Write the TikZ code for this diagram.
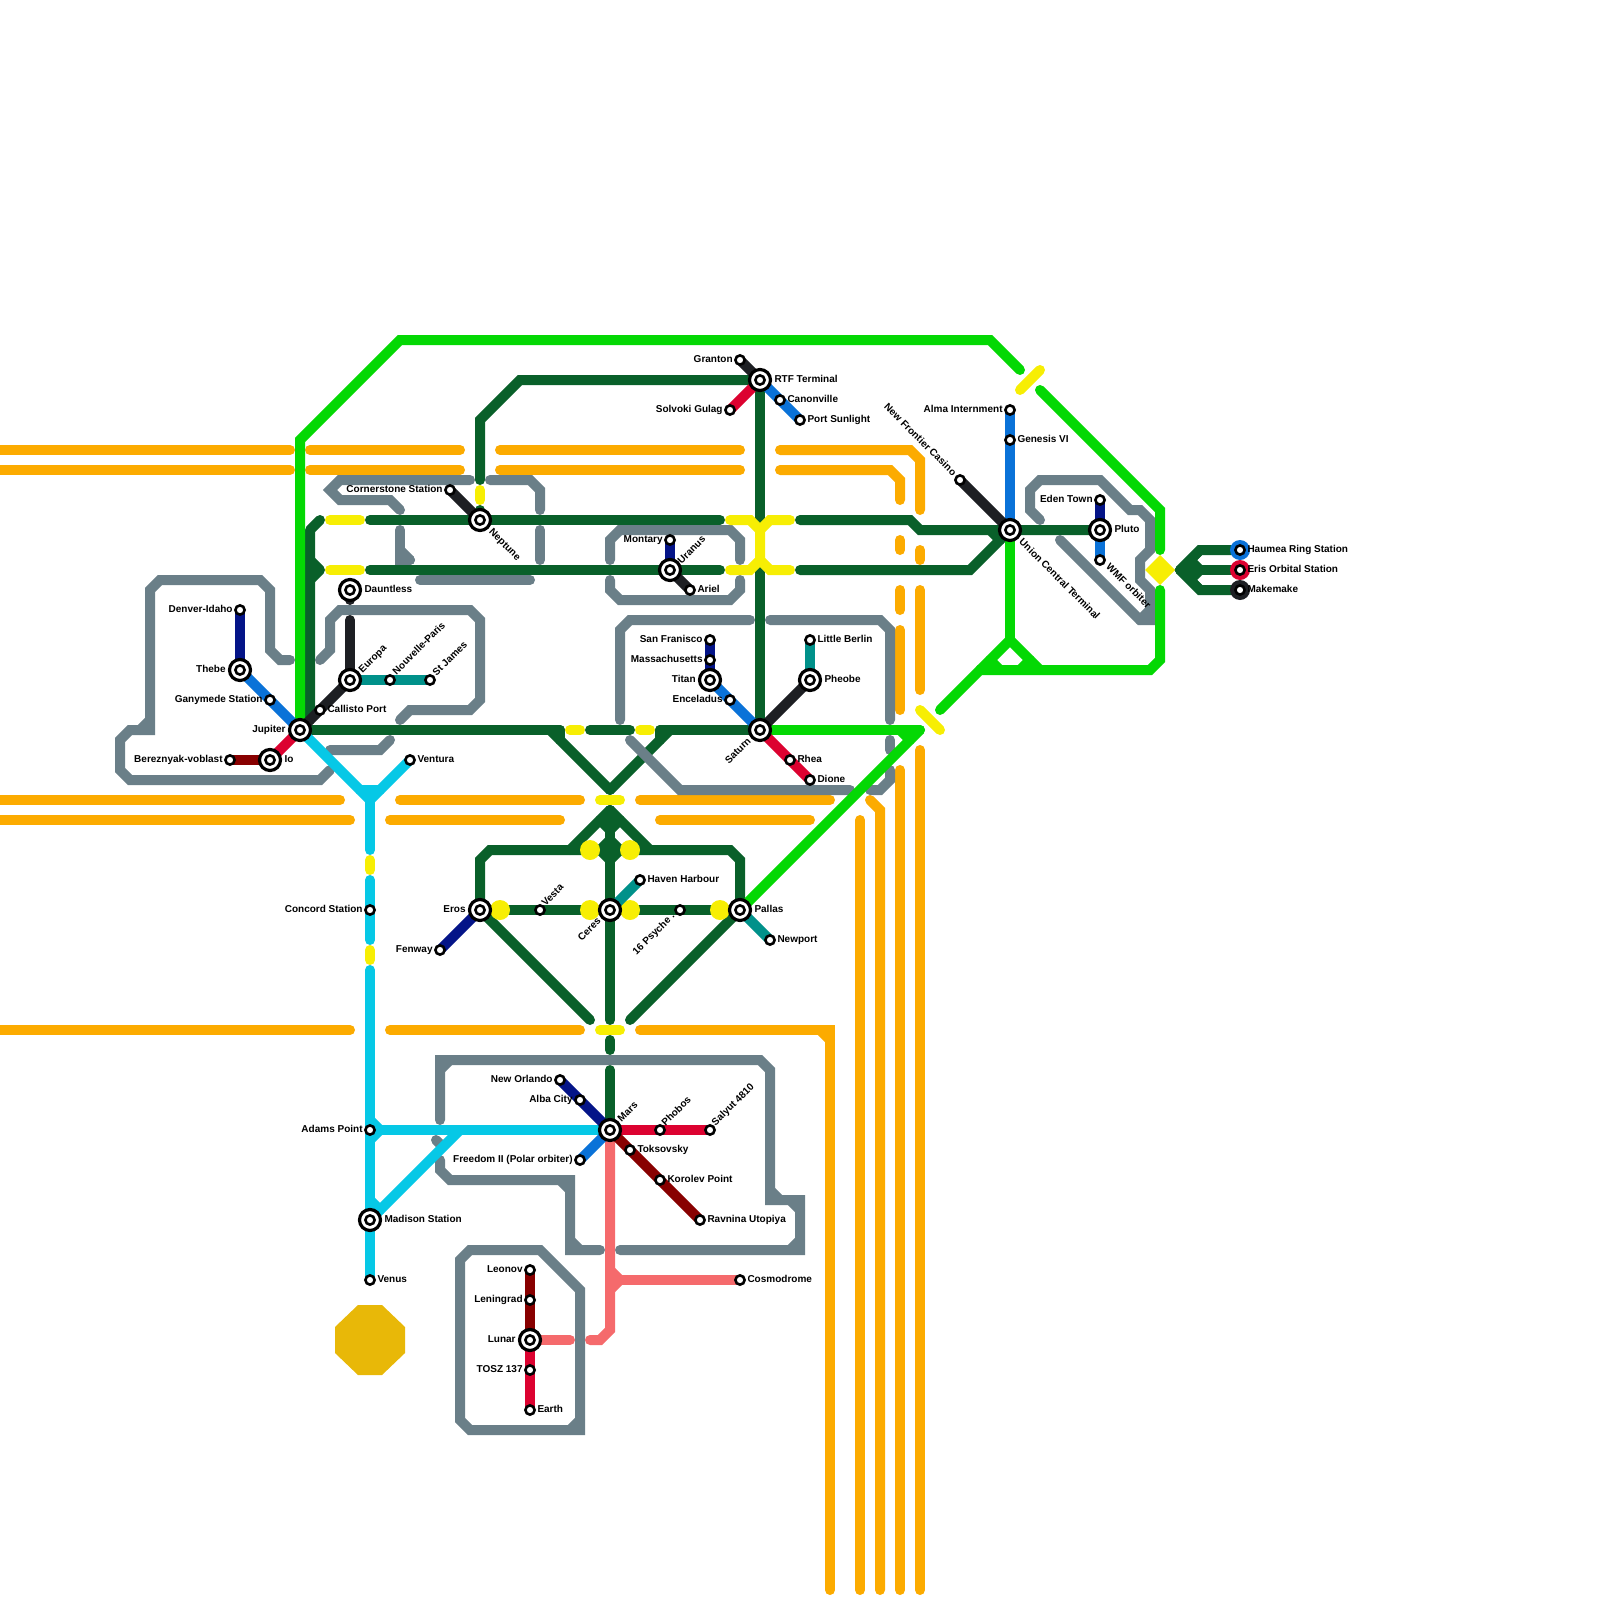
\documentclass[tikz,border=0pt]{standalone}
\usepackage{fontspec}
\setmainfont{Liberation Sans}
\pgfdeclarelayer{lines}
\pgfsetlayers{lines,main}
\definecolor{mOrange}{RGB}{252,171,0}
\definecolor{mDark}{RGB}{9,96,42}
\definecolor{mBright}{RGB}{4,216,4}
\definecolor{mYellow}{RGB}{247,238,4}
\definecolor{mGrey}{RGB}{106,127,136}
\definecolor{mNavy}{RGB}{4,20,136}
\definecolor{mBlue}{RGB}{10,114,216}
\definecolor{mCyan}{RGB}{6,200,230}
\definecolor{mRed}{RGB}{220,2,48}
\definecolor{mMaroon}{RGB}{136,0,0}
\definecolor{mTeal}{RGB}{0,145,138}
\definecolor{mBlack}{RGB}{29,31,35}
\definecolor{mSalmon}{RGB}{245,106,108}
\definecolor{mGold}{RGB}{232,184,8}
\tikzset{
  mline/.style={line width=10pt,line cap=round,line join=miter,miter limit=10},
  oline/.style={mline,draw=mOrange},
  dline/.style={mline,draw=mDark},
  bline/.style={mline,draw=mBright},
  yline/.style={mline,draw=mYellow},
  gline/.style={mline,draw=mGrey},
  cline/.style={mline,draw=mCyan},
  nline/.style={mline,draw=mNavy},
  uline/.style={mline,draw=mBlue},
  rline/.style={mline,draw=mRed},
  mrline/.style={mline,draw=mMaroon},
  tline/.style={mline,draw=mTeal},
  kline/.style={mline,draw=mBlack},
  sline/.style={mline,draw=mSalmon},
  stopmark/.style={circle,draw=black,fill=white,line width=2.6pt,minimum size=9.2pt,inner sep=0pt},
  hubmark/.style={circle,draw=black,fill=white,line width=3.2pt,minimum size=21pt,inner sep=0pt},
  endcap/.style={circle,minimum size=20pt,inner sep=0pt},
  blob/.style={circle,fill=mYellow,minimum size=20pt,inner sep=0pt},
  txt/.style={font=\fontsize{10}{10}\selectfont\bfseries,inner sep=0pt,text height=7.2pt,text depth=0pt,text=black},
  lr/.style={txt,anchor=west,xshift=-0.7pt,yshift=0.8pt},
  ll/.style={txt,anchor=east,xshift=0.8pt,yshift=0.8pt},
  ru/.style={txt,anchor=west,rotate=45},
  rd/.style={txt,anchor=west,rotate=-45},
  eu/.style={txt,anchor=east,rotate=45},
  ed/.style={txt,anchor=east,rotate=-45},
}
\newcommand{\stn}[3]{\node[stopmark] (#1) at (#2,#3) {};}
\newcommand{\hub}[3]{\node[hubmark] (#1) at (#2,#3) {};\node[stopmark] (#1-i) at (#2,#3) {};}
\begin{document}
\begin{tikzpicture}[x=1pt,y=-1pt]
\useasboundingbox (0,0) rectangle (1600,1600);
% stations
\hub{jupiter}{300}{730}\hub{thebe}{240}{670}\stn{denver}{240}{610}\stn{ganymede}{270}{700}
\hub{io}{270}{760}\stn{bereznyak}{230}{760}\stn{callisto}{320}{710}\hub{europa}{350}{680}
\hub{dauntless}{350}{590}\stn{nouvelle}{390}{680}\stn{stjames}{430}{680}\stn{ventura}{410}{760}
\hub{neptune}{480}{520}\stn{cornerstone}{450}{490}
\hub{rtf}{760}{380}\stn{granton}{740}{360}\stn{canonville}{780}{400}\stn{sunlight}{800}{420}\stn{solvoki}{730}{410}
\hub{uranus}{670}{570}\stn{montary}{670}{540}\stn{ariel}{690}{590}
\hub{saturn}{760}{730}\stn{rhea}{790}{760}\stn{dione}{810}{780}
\hub{titan}{710}{680}\stn{sanfran}{710}{640}\stn{mass}{710}{660}\stn{enceladus}{730}{700}
\hub{pheobe}{810}{680}\stn{berlin}{810}{640}
\hub{union}{1010}{530}\stn{alma}{1010}{410}\stn{genesis}{1010}{440}\stn{frontier}{960}{480}
\hub{pluto}{1100}{530}\stn{eden}{1100}{500}\stn{wmf}{1100}{560}
\node[endcap,fill=mBlue] (haumea-c) at (1240,550) {};
\node[endcap,fill=mRed] (eris-c) at (1240,570) {};
\node[endcap,fill=mBlack] (make-c) at (1240,590) {};
\stn{haumea}{1240}{550}\stn{eris}{1240}{570}\stn{makemake}{1240}{590}
\hub{eros}{480}{910}\hub{ceres}{610}{910}\hub{pallas}{740}{910}\stn{vesta}{540}{910}\stn{psyche}{680}{910}
\stn{haven}{640}{880}\stn{newport}{770}{940}\stn{fenway}{440}{950}
\stn{concord}{370}{910}\stn{adams}{370}{1130}\hub{madison}{370}{1220}\stn{venus}{370}{1280}
\hub{mars}{610}{1130}\stn{orlando}{560}{1080}\stn{alba}{580}{1100}\stn{freedom}{580}{1160}
\stn{phobos}{660}{1130}\stn{salyut}{710}{1130}\stn{toksovsky}{630}{1150}\stn{korolev}{660}{1180}\stn{ravnina}{700}{1220}
\stn{cosmodrome}{740}{1280}
\stn{leonov}{530}{1270}\stn{leningrad}{530}{1300}\hub{lunar}{530}{1340}\stn{tosz}{530}{1370}\stn{earth}{530}{1410}
% labels
\node[ll] (t1) at (232,609.4) {Denver-Idaho};
\node[ll] (t2) at (225,669.4) {Thebe};
\node[ll] (t3) at (262,699.4) {Ganymede Station};
\node[ll] (t4) at (285,729.4) {Jupiter};
\node[ll] (t5) at (222,759.4) {Bereznyak-voblast};
\node[lr] (t6) at (285,759.4) {Io};
\node[lr] (t7) at (328,709.4) {Callisto Port};
\node[lr] (t8) at (365,589.4) {Dauntless};
\node[lr] (t9) at (418,759.4) {Ventura};
\node[ll] (t10) at (442,489.4) {Cornerstone Station};
\node[ru] (t11) at (360,671) {Europa};
\node[ru] (t12) at (394,673) {Nouvelle-Paris};
\node[ru] (t13) at (434,674) {St James};
\node[rd] (t14) at (491,530) {Neptune};
\node[ll] (t15) at (732,359.4) {Granton};
\node[lr] (t16) at (775,379.4) {RTF Terminal};
\node[lr] (t17) at (788,399.4) {Canonville};
\node[lr] (t18) at (808,419.4) {Port Sunlight};
\node[ll] (t19) at (722,409.4) {Solvoki Gulag};
\node[ll] (t20) at (662,539.4) {Montary};
\node[ru] (t21) at (679,562) {Uranus};
\node[lr] (t22) at (698,589.4) {Ariel};
\node[ll] (t23) at (702,639.4) {San Franisco};
\node[ll] (t24) at (702,659.4) {Massachusetts};
\node[ll] (t25) at (695,679.4) {Titan};
\node[ll] (t26) at (722,699.4) {Enceladus};
\node[lr] (t27) at (818,639.4) {Little Berlin};
\node[lr] (t28) at (825,679.4) {Pheobe};
\node[eu] (t29) at (749,739) {Saturn};
\node[lr] (t30) at (798,759.4) {Rhea};
\node[lr] (t31) at (818,779.4) {Dione};
\node[ll] (t32) at (1002,409.4) {Alma Internment};
\node[lr] (t33) at (1018,439.4) {Genesis VI};
\node[ed] (t34) at (955,474) {New Frontier Casino};
\node[rd] (t35) at (1021,540) {Union Central Terminal};
\node[ll] (t36) at (1092,499.4) {Eden Town};
\node[lr] (t37) at (1115,529.4) {Pluto};
\node[rd] (t38) at (1108,565) {WMF orbiter};
\node[lr] (t39) at (1248,549.4) {Haumea Ring Station};
\node[lr] (t40) at (1248,569.4) {Eris Orbital Station};
\node[lr] (t41) at (1248,589.4) {Makemake};
\node[ll] (t42) at (465,909.4) {Eros};
\node[ll] (t43) at (432,949.4) {Fenway};
\node[ru] (t44) at (543,904) {Vesta};
\node[eu] (t45) at (599,919) {Ceres};
\node[txt,anchor=west,rotate=45] (t46) at (634,953) {16 Psyche .};
\node[lr] (t47) at (648,879.4) {Haven Harbour};
\node[lr] (t48) at (755,909.4) {Pallas};
\node[lr] (t49) at (778,939.4) {Newport};
\node[ll] (t50) at (362,909.4) {Concord Station};
\node[ll] (t51) at (362,1129.4) {Adams Point};
\node[lr] (t52) at (385,1219.4) {Madison Station};
\node[lr] (t53) at (378,1279.4) {Venus};
\node[ll] (t54) at (552,1079.4) {New Orlando};
\node[ll] (t55) at (572,1099.4) {Alba City};
\node[ll] (t56) at (572,1159.4) {Freedom II (Polar orbiter)};
\node[ru] (t57) at (619,1120) {Mars};
\node[ru] (t58) at (663,1124) {Phobos};
\node[ru] (t59) at (713,1124) {Salyut 4810};
\node[lr] (t60) at (638,1149.4) {Toksovsky};
\node[lr] (t61) at (668,1179.4) {Korolev Point};
\node[lr] (t62) at (708,1219.4) {Ravnina Utopiya};
\node[lr] (t63) at (748,1279.4) {Cosmodrome};
\node[ll] (t64) at (522,1269.4) {Leonov};
\node[ll] (t65) at (522,1299.4) {Leningrad};
\node[ll] (t66) at (515,1339.4) {Lunar};
\node[ll] (t67) at (522,1369.4) {TOSZ 137};
\node[lr] (t68) at (538,1409.4) {Earth};
\begin{pgfonlayer}{lines}
% orange
\draw[oline] (-10,450)--(290,450);
\draw[oline] (-10,470)--(290,470);
\draw[oline] (310,450)--(460,450);
\draw[oline] (310,470)--(460,470);
\draw[oline] (500,450)--(740,450);
\draw[oline] (500,470)--(740,470);
\draw[oline] (780,450)--(910,450)--(920,460)--(920,510);
\draw[oline] (780,470)--(890,470)--(900,480)--(900,500);
\draw[oline] (900,540)--(900,550);
\draw[oline] (920,550)--(920,560);
\draw[oline] (900,590)--(900,610);
\draw[oline] (920,590)--(920,690);
\draw[oline] (900,630)--(900,710);
\draw[oline] (920,750)--(920,1590);
\draw[oline] (900,770)--(900,1590);
\draw[oline] (870,800)--(880,810)--(880,1590);
\draw[oline] (860,820)--(860,1590);
\draw[oline] (-10,800)--(340,800);
\draw[oline] (-10,820)--(350,820);
\draw[oline] (400,800)--(580,800);
\draw[oline] (390,820)--(560,820);
\draw[oline] (640,800)--(830,800);
\draw[oline] (660,820)--(810,820);
\draw[oline] (-10,1030)--(350,1030);
\draw[oline] (390,1030)--(580,1030);
\draw[oline] (640,1030)--(830,1030)--(830,1590);
\draw[oline] (820,1030)--(830,1040);
% dark green
\draw[dline,line join=round] (320,520)--(310,530)--(310,720);
\draw[dline,line join=round] (310,560)--(320,570)--(310,580);
\draw[dline] (370,520)--(neptune.center)--(720,520);
\draw[dline] (370,570)--(uranus.center)--(720,570);
\draw[dline] (480,480)--(480,420)--(520,380)--(rtf.center);
\draw[dline] (480,510)--(neptune.center);
\draw[dline] (rtf.center)--(760,530);
\draw[dline] (760,560)--(saturn.center);
\draw[dline] (800,520)--(910,520)--(920,530)--(union.center)--(pluto.center);
\draw[dline] (800,570)--(970,570)--(union.center);
\draw[dline] (990,530)--(1000,540);
\draw[dline] (jupiter.center)--(560,730);
\draw[dline] (560,730)--(560,740);
\draw[dline] (550,730)--(610,790);
\draw[dline] (590,730)--(630,730);
\draw[dline] (660,730)--(saturn.center);
\draw[dline] (660,730)--(660,740);
\draw[dline] (670,730)--(610,790);
\draw[dline] (610,810)--(570,850);
\draw[dline] (610,810)--(650,850);
\draw[dline] (610,810)--(ceres.center)--(610,1020);
\draw[dline] (600,820)--(610,830)--(620,820);
\draw[dline] (eros.center)--(480,860)--(490,850)--(730,850)--(740,860)--(pallas.center);
\draw[dline,line join=round] (610,840)--(600,850)--(610,860)--(620,850)--cycle;
\draw[dline] (eros.center)--(vesta.center)--(ceres.center)--(psyche.center)--(pallas.center);
\draw[dline] (eros.center)--(590,1020);
\draw[dline] (pallas.center)--(630,1020);
\draw[dline] (610,1040)--(610,1050);
\draw[dline] (610,1070)--(mars.center);
\draw[dline] (1180,570)--(1200,550)--(haumea.center);
\draw[dline] (1180,570)--(eris.center);
\draw[dline] (1180,570)--(1200,590)--(makemake.center);
\fill[mDark] (1174,570)--(1190,554)--(1202,555)--(1197,560)--(1202,565)--(1202,575)--(1197,580)--(1202,585)--(1190,586)--cycle;
% grey
\draw[gline] (290,660)--(280,660)--(270,650)--(270,590)--(260,580)--(160,580)--(150,590)--(150,730)--(130,730)--(120,740)--(120,770)--(130,780)--(320,780)--(330,770);
\draw[gline] (150,720)--(140,730);
\draw[gline] (320,660)--(330,650)--(330,620)--(340,610)--(470,610)--(480,620)--(480,700)--(470,710)--(410,710)--(400,720);
\draw[gline] (400,510)--(390,500)--(340,500)--(330,490)--(340,480)--(470,480);
\draw[gline] (490,480)--(530,480)--(540,490)--(540,510);
\draw[gline] (400,530)--(400,560)--(410,560);
\draw[gline] (400,550)--(410,560);
\draw[gline] (540,530)--(540,560);
\draw[gline] (420,580)--(530,580);
\draw[gline] (390,740)--(380,750)--(330,750);
\draw[gline] (610,560)--(610,540)--(620,530)--(730,530)--(740,540)--(740,560);
\draw[gline] (610,580)--(610,590)--(620,600)--(730,600)--(740,590)--(740,580);
\draw[gline] (620,720)--(620,630)--(630,620)--(750,620);
\draw[gline] (770,620)--(880,620)--(890,630)--(890,720);
\draw[gline] (890,740)--(890,750);
\draw[gline] (890,770)--(890,780)--(880,790)--(870,790);
\draw[gline] (630,740)--(680,790)--(850,790);
\draw[gline] (1040,520)--(1030,510)--(1030,490)--(1040,480)--(1100,480)--(1130,510)--(1140,510)--(1150,520)--(1150,550)--(1140,560)--(1140,580)--(1150,590)--(1150,620)--(1140,620)--(1060,540);
\draw[gline] (1150,610)--(1140,620);
\draw[gline] (440,1120)--(440,1060)--(760,1060)--(770,1070)--(770,1200)--(800,1200)--(800,1250)--(620,1250);
\draw[gline] (440,1070)--(450,1060);
\draw[gline] (770,1190)--(780,1200);
\draw[gline] (790,1200)--(800,1210);
\draw[gline] (800,1240)--(790,1250);
\draw[gline] (440,1160)--(440,1170)--(450,1180)--(570,1180)--(570,1250)--(600,1250);
\draw[gline] (560,1180)--(570,1190);
\draw[gline] (570,1240)--(580,1250);
\draw[gline] (436,1140)--(440,1144);
\draw[gline,line cap=butt] (470,1250)--(540,1250)--(580,1290)--(580,1430)--(470,1430)--(460,1420)--(460,1260)--cycle;
\draw[gline] (570,1430)--(580,1420);
% bright green
\draw[bline] (jupiter.center)--(300,440)--(400,340)--(990,340)--(1020,370);
\draw[bline] (1040,390)--(1160,510)--(1160,550);
\draw[bline] (1160,590)--(1160,660)--(1150,670)--(980,670)--(940,710);
\draw[bline] (union.center)--(1010,640);
\draw[bline] (980,670)--(1010,640);
\draw[bline] (1010,640)--(1040,670);
\draw[bline] (990,660)--(1000,670);
\draw[bline] (1030,660)--(1020,670);
\draw[bline] (saturn.center)--(920,730);
\draw[bline] (920,730)--(pallas.center);
\draw[bline] (900,730)--(910,740);
% yellow
\draw[yline] (330,520)--(360,520);
\draw[yline] (330,570)--(360,570);
\draw[yline] (480,490)--(480,500);
\draw[yline] (730,520)--(750,520)--(760,530)--(760,560)--(750,570)--(730,570);
\draw[yline] (790,520)--(770,520)--(760,530);
\draw[yline] (790,570)--(770,570)--(760,560);
\draw[yline] (570,730)--(580,730);
\draw[yline] (640,730)--(650,730);
\draw[yline] (600,800)--(620,800);
\draw[yline] (600,1030)--(620,1030);
\draw[yline] (1020,390)--(1040,370);
\draw[yline] (920,710)--(940,730);
\draw[yline] (370,860)--(370,870);
\draw[yline] (370,950)--(370,960);
\fill[mYellow] (1145,570)--(1160,555)--(1175,570)--(1160,585)--cycle;
\node[blob] (y1) at (590,850) {};
\node[blob] (y2) at (630,850) {};
\node[blob] (y3) at (500,910) {};
\node[blob] (y4) at (590,910) {};
\node[blob] (y5) at (630,910) {};
\node[blob] (y6) at (720,910) {};
% cyan
\draw[cline] (jupiter.center)--(370,800);
\draw[cline] (ventura.center)--(370,800);
\draw[cline] (360,790)--(380,790);
\draw[cline] (370,800)--(370,850);
\draw[cline] (370,880)--(concord.center)--(370,940);
\draw[cline] (370,970)--(adams.center)--(madison.center)--(venus.center);
\draw[cline] (370,1120)--(380,1130)--(370,1140);
\draw[cline] (adams.center)--(mars.center);
\draw[cline] (madison.center)--(460,1130);
\draw[cline] (370,1200)--(380,1210);
% black, navy, blue, red, maroon, teal, salmon
\draw[kline] (cornerstone.center)--(neptune.center);
\draw[kline] (dauntless.center)--(350,600);
\draw[kline] (350,620)--(europa.center);
\draw[kline] (jupiter.center)--(callisto.center)--(europa.center);
\draw[tline] (europa.center)--(nouvelle.center)--(stjames.center);
\draw[uline] (jupiter.center)--(ganymede.center)--(thebe.center);
\draw[nline] (thebe.center)--(denver.center);
\draw[rline] (jupiter.center)--(io.center);
\draw[mrline] (io.center)--(bereznyak.center);
\draw[kline] (granton.center)--(rtf.center);
\draw[rline] (solvoki.center)--(rtf.center);
\draw[uline] (rtf.center)--(canonville.center)--(sunlight.center);
\draw[nline] (montary.center)--(uranus.center);
\draw[kline] (uranus.center)--(ariel.center);
\draw[uline] (saturn.center)--(enceladus.center)--(titan.center);
\draw[nline] (titan.center)--(mass.center)--(sanfran.center);
\draw[kline] (saturn.center)--(pheobe.center);
\draw[tline] (pheobe.center)--(berlin.center);
\draw[rline] (saturn.center)--(rhea.center)--(dione.center);
\draw[uline] (union.center)--(genesis.center)--(alma.center);
\draw[kline] (union.center)--(frontier.center);
\draw[nline] (pluto.center)--(eden.center);
\draw[uline] (pluto.center)--(wmf.center);
\draw[nline] (eros.center)--(fenway.center);
\draw[tline] (ceres.center)--(haven.center);
\draw[tline] (pallas.center)--(newport.center);
\draw[sline] (mars.center)--(610,1330)--(600,1340)--(590,1340);
\draw[sline] (lunar.center)--(570,1340);
\draw[sline] (610,1270)--(620,1280)--(610,1290);
\draw[sline] (610,1280)--(cosmodrome.center);
\draw[nline] (mars.center)--(alba.center)--(orlando.center);
\draw[uline] (mars.center)--(freedom.center);
\draw[rline] (mars.center)--(phobos.center)--(salyut.center);
\draw[mrline] (mars.center)--(toksovsky.center)--(korolev.center)--(ravnina.center);
\draw[mrline] (lunar.center)--(leningrad.center)--(leonov.center);
\draw[rline] (lunar.center)--(tosz.center)--(earth.center);
\fill[mGold] (358,1305)--(382,1305)--(405,1327)--(405,1353)--(382,1375)--(358,1375)--(335,1353)--(335,1327)--cycle;
\end{pgfonlayer}
\end{tikzpicture}
\end{document}
